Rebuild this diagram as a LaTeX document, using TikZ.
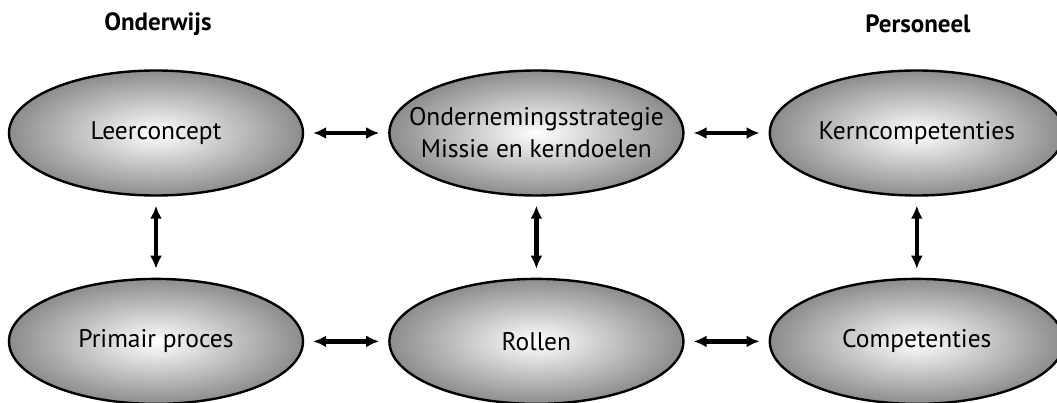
\documentclass[tikz,border=0pt]{standalone}
\usepackage{fontspec}
\setmainfont{PT Sans}
\usetikzlibrary{positioning, arrows.meta, shapes.geometric}

\begin{document}
\begin{tikzpicture}[x=1pt, y=-1pt,
    oval/.style={ellipse, draw, line width=2.4pt, minimum width=294pt, minimum height=125pt,
        inner sep=0pt, inner color=white, outer color=black!45},
    ovaltext/.style={font=\fontsize{25.5}{32}\selectfont, align=center},
    heading/.style={font=\fontsize{25}{30}\selectfont\bfseries},
    link/.style={{Latex[length=13pt,width=12pt]}-{Latex[length=13pt,width=12pt]}, line width=4.2pt,
        shorten <=9pt, shorten >=9pt}]
    \useasboundingbox (0,0) rectangle (1057,403);

    % Headings
    \node[heading] (onderwijs) at (158,24) {Onderwijs};
    \node[heading] (personeel) at (918,24) {Personeel};

    % Top row
    \node[oval, label={[ovaltext]center:Leerconcept}] (leer) at (156,133) {};
    \node[oval, right=84pt of leer, label={[ovaltext]center:Ondernemingsstrategie\\Missie en kerndoelen}] (strat) {};
    \node[oval, right=84pt of strat, label={[ovaltext]center:Kerncompetenties}] (kern) {};

    % Bottom row
    \node[oval, below=81pt of leer, label={[ovaltext]center:Primair proces}] (primair) {};
    \node[oval, below=81pt of strat, label={[ovaltext]center:Rollen}] (rollen) {};
    \node[oval, below=81pt of kern, label={[ovaltext]center:Competenties}] (comp) {};

    % Arrows
    \draw[link] (leer) -- (strat);
    \draw[link] (strat) -- (kern);
    \draw[link] (primair) -- (rollen);
    \draw[link] (rollen) -- (comp);
    \draw[link] (leer) -- (primair);
    \draw[link] (strat) -- (rollen);
    \draw[link] (kern) -- (comp);
\end{tikzpicture}
\end{document}
